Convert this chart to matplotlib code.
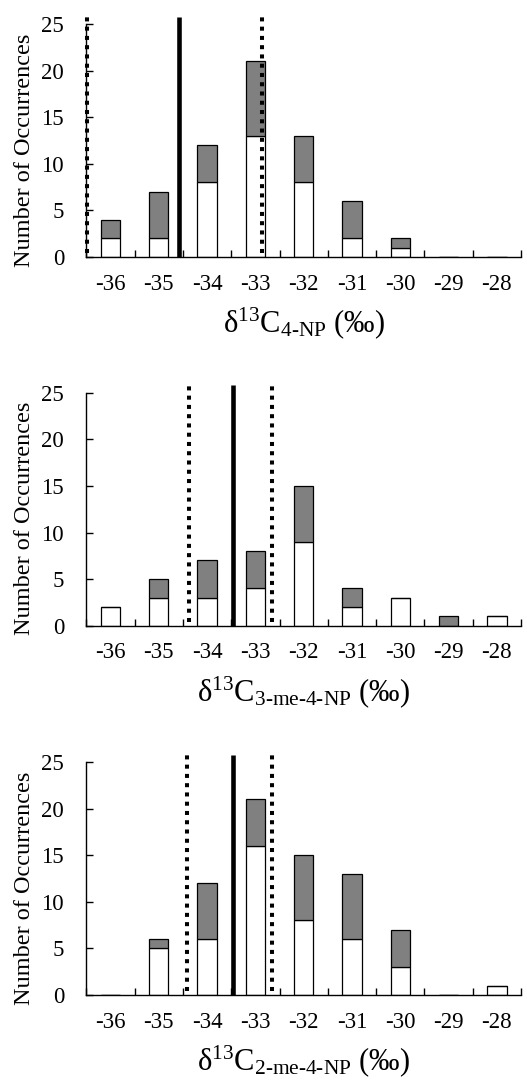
import numpy as np
import matplotlib
matplotlib.use('Agg')
import matplotlib.pyplot as plt

plt.rcParams['font.family'] = ['Liberation Serif', 'DejaVu Serif']
plt.rcParams['mathtext.fontset'] = 'custom'
plt.rcParams['mathtext.rm'] = 'Liberation Serif'
plt.rcParams['mathtext.it'] = 'Liberation Serif:italic'

categories = [-36, -35, -34, -33, -32, -31, -30, -29, -28]

# white = lower part of the stack, grey = upper part
np4_white = [2, 2, 8, 13, 8, 2, 1, 0, 0]
np4_grey = [2, 5, 4, 8, 5, 4, 1, 0, 0]
me3_white = [2, 3, 3, 4, 9, 2, 3, 0, 1]
me3_grey = [0, 2, 4, 4, 6, 2, 0, 1, 0]
me2_white = [0, 5, 6, 16, 8, 6, 3, 0, 1]
me2_grey = [0, 1, 6, 5, 7, 7, 4, 0, 0]

# mean (solid) and bounds (dotted), per mil
np4_lines = [-36.48, -34.59, -32.87]
me3_lines = [-34.37, -33.47, -32.66]
me2_lines = [-34.41, -33.47, -32.66]

labels = ['4-NP', '3-me-4-NP', '2-me-4-NP']

panels = [
    (np4_white, np4_grey, np4_lines, labels[0]),
    (me3_white, me3_grey, me3_lines, labels[1]),
    (me2_white, me2_grey, me2_lines, labels[2]),
]

W, H = 527, 1082
fig = plt.figure(figsize=(W / 100, H / 100), dpi=100)

ax_left = 86.3 / W
ax_w = 434.7 / W
ax_h = 233 / H
zero_px = [257, 625.7, 995]

x = np.arange(len(categories))
for (white, grey, lines, lab), zp in zip(panels, zero_px):
    ax = fig.add_axes([ax_left, 1 - zp / H, ax_w, ax_h])
    ax.bar(x, white, width=0.4, color='white', edgecolor='black', linewidth=0.9, zorder=2)
    ax.bar(x, grey, bottom=white, width=0.4, color='#808080', edgecolor='black',
           linewidth=0.9, zorder=2)

    pos = [v - categories[0] for v in lines]
    ax.plot([pos[1], pos[1]], [0, 25.8], color='black', lw=3.3, clip_on=False,
            solid_capstyle='butt', zorder=3)
    for p in (pos[0], pos[2]):
        ax.plot([p, p], [0.4, 25.8], color='black', lw=2.9, linestyle=(0, (1, 1.3)),
                clip_on=False, zorder=3)

    ax.set_xlim(-0.5, len(categories) - 0.5)
    ax.set_ylim(0, 25)
    ax.set_yticks([0, 5, 10, 15, 20, 25])
    ax.set_xticks(x)
    ax.set_xticklabels([str(c) for c in categories])
    ax.set_xticks(np.arange(-0.5, len(categories), 1), minor=True)
    ax.tick_params(axis='x', which='major', length=0, pad=12, labelsize=16.5)
    ax.tick_params(axis='x', which='minor', direction='in', length=5, width=1.0)
    ax.tick_params(axis='y', direction='in', length=5, width=1.0, pad=16, labelsize=16.5)

    for s in ('top', 'right'):
        ax.spines[s].set_visible(False)
    for s in ('left', 'bottom'):
        ax.spines[s].set_linewidth(1.0)

    ax.set_ylabel('Number of Occurrences', fontsize=17.5)
    ax.yaxis.set_label_coords(-0.118, 0.46)
    ax.text(0.5, -0.322, r'δ$^{13}$C$_{\text{' + lab + r'}}$ (‰)', transform=ax.transAxes,
            ha='center', va='baseline', fontsize=22)

fig.savefig('out.png', dpi=100)
